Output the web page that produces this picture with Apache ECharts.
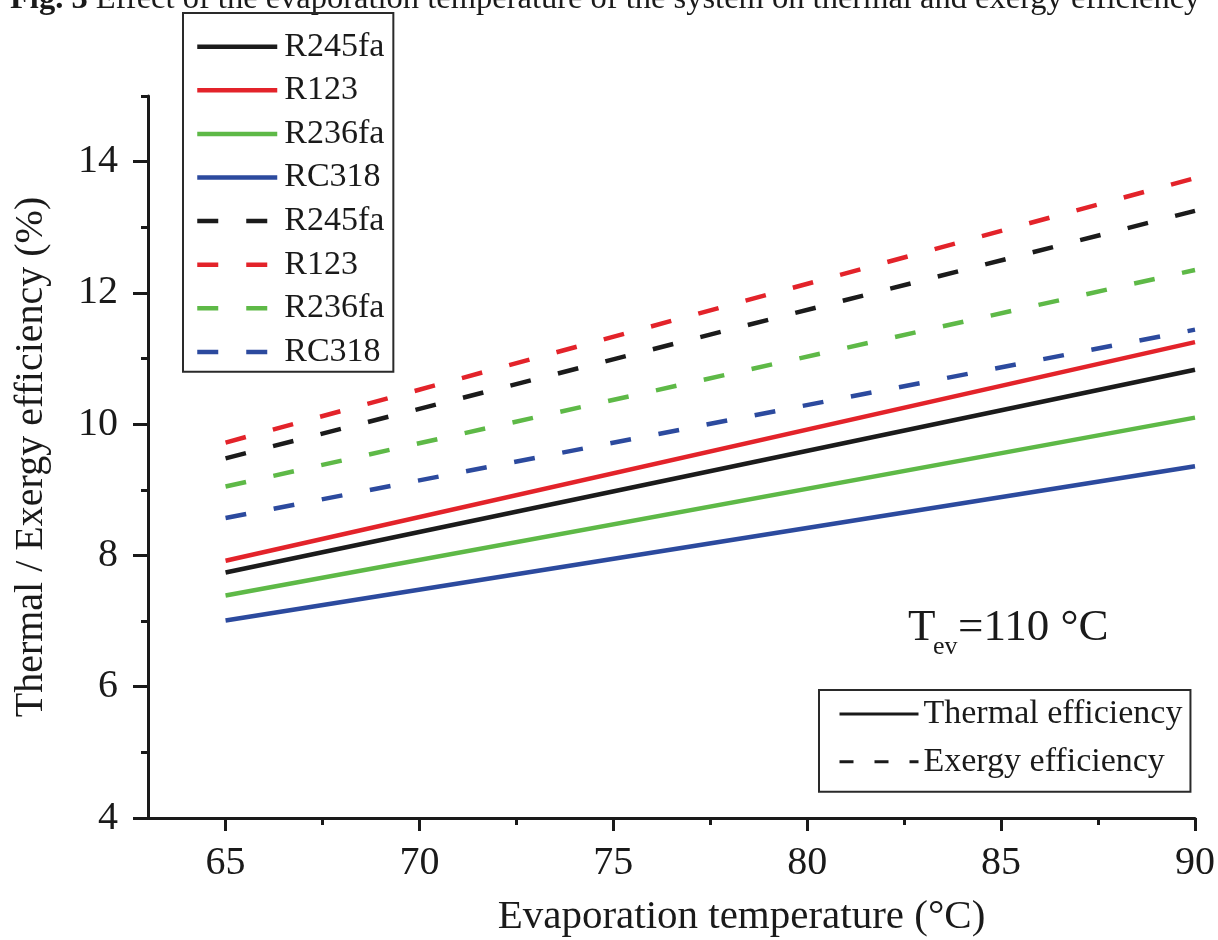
<!DOCTYPE html>
<html>
<head>
<meta charset="utf-8">
<script src="https://cdn.jsdelivr.net/npm/echarts@6/dist/echarts.min.js"></script>
<style>
  html, body { margin: 0; padding: 0; background: #ffffff; }
  #chart { width: 1218px; height: 940px; }
</style>
</head>
<body>
<div id="chart"></div>
<script>
// Evaporation temperature (°C) at the ends of each curve
const temps = [65, 90];

// Working fluids
const fluids = ['R245fa', 'R123', 'R236fa', 'RC318'];

// Thermal efficiency (%)
const thermalR245fa = [7.74, 10.83];
const thermalR123   = [7.92, 11.25];
const thermalR236fa = [7.39, 10.10];
const thermalRC318  = [7.01, 9.36];

// Exergy efficiency (%)
const exergyR245fa = [9.48, 13.25];
const exergyR123   = [9.72, 13.75];
const exergyR236fa = [9.05, 12.35];
const exergyRC318  = [8.57, 11.44];

// Axis ticks
const xMajorTicks = [65, 70, 75, 80, 85, 90];
const xMinorTicks = [67.5, 72.5, 77.5, 82.5, 87.5];
const yMajorTicks = [4, 6, 8, 10, 12, 14];
const yMinorTicks = [5, 7, 9, 11, 13, 15];

const thermalSets = [thermalR245fa, thermalR123, thermalR236fa, thermalRC318];
const exergySets = [exergyR245fa, exergyR123, exergyR236fa, exergyRC318];
const colors = ['#1b1b1b', '#e3232a', '#5eb947', '#2c4a9e'];

const FONT = '"Liberation Serif", "Times New Roman", serif';
const INK = '#1a1a1a';
const DASH = [21, 28];

function pairs(values) {
  return temps.map((t, j) => [t, values[j]]);
}

const series = [];
fluids.forEach((f, i) => {
  series.push({
    name: f + ' thermal', type: 'line', symbol: 'none', silent: true,
    xAxisIndex: 0, yAxisIndex: 0,
    data: pairs(thermalSets[i]),
    lineStyle: { color: colors[i], width: 4.5, type: 'solid' },
    itemStyle: { color: colors[i] }
  });
});
fluids.forEach((f, i) => {
  series.push({
    name: f + ' exergy', type: 'line', symbol: 'none', silent: true,
    xAxisIndex: 0, yAxisIndex: 0,
    data: pairs(exergySets[i]),
    lineStyle: { color: colors[i], width: 4.5, type: DASH },
    itemStyle: { color: colors[i] }
  });
});
// Style key entries (no data of their own)
series.push({
  name: 'Thermal efficiency', type: 'line', symbol: 'none', data: [],
  lineStyle: { color: INK, width: 3, type: 'solid' }, itemStyle: { color: INK }
});
series.push({
  name: 'Exergy efficiency', type: 'line', symbol: 'none', data: [],
  lineStyle: { color: INK, width: 3, type: [14, 21] }, itemStyle: { color: INK }
});

const axisCommon = {
  type: 'value',
  splitLine: { show: false },
  nameMoveOverlap: false
};

// legend keys show only the line, no marker dot
const hiddenMarker = { color: 'transparent', borderWidth: 0, opacity: 0 };

const option = {
  backgroundColor: '#ffffff',
  animation: false,
  textStyle: { fontFamily: FONT, color: INK },
  grid: { left: 148, right: 23, top: 96, bottom: 122, outerBoundsMode: 'none', containLabel: false },
  xAxis: [
    Object.assign({}, axisCommon, {
      min: 63, max: 90, position: 'bottom',
      name: 'Evaporation temperature (°C)',
      nameLocation: 'middle', nameGap: 79,
      nameTextStyle: { fontFamily: FONT, fontSize: 41, color: INK, padding: [0, 0, 0, 140] },
      axisLine: { show: true, onZero: false, lineStyle: { color: INK, width: 3 } },
      axisTick: { show: true, inside: false, length: 13, customValues: xMajorTicks, lineStyle: { color: INK, width: 3 } },
      axisLabel: { show: true, margin: 25, customValues: xMajorTicks, fontFamily: FONT, fontSize: 40, color: INK }
    }),
    Object.assign({}, axisCommon, {
      min: 63, max: 90, position: 'bottom',
      axisLine: { show: false },
      axisTick: { show: true, inside: false, length: 7, customValues: xMinorTicks, lineStyle: { color: INK, width: 3 } },
      axisLabel: { show: false }
    })
  ],
  yAxis: [
    Object.assign({}, axisCommon, {
      min: 4, max: 15, position: 'left',
      name: 'Thermal / Exergy efficiency (%)',
      nameLocation: 'middle', nameGap: 97,
      nameTextStyle: { fontFamily: FONT, fontSize: 40, color: INK },
      axisLine: { show: true, onZero: false, lineStyle: { color: INK, width: 3 } },
      axisTick: { show: true, inside: false, length: 15, customValues: yMajorTicks, lineStyle: { color: INK, width: 3 } },
      axisLabel: { show: true, margin: 30, customValues: yMajorTicks, fontFamily: FONT, fontSize: 40, color: INK }
    }),
    Object.assign({}, axisCommon, {
      min: 4, max: 15, position: 'left',
      axisLine: { show: false },
      axisTick: { show: true, inside: false, length: 7, customValues: yMinorTicks, lineStyle: { color: INK, width: 3 } },
      axisLabel: { show: false }
    })
  ],
  legend: [
    {
      orient: 'vertical', left: 183, top: 13,
      selectedMode: false,
      data: fluids.map(f => f + ' thermal').concat(fluids.map(f => f + ' exergy')),
      formatter: name => name.split(' ')[0],
      itemWidth: 80, itemHeight: 14, itemGap: 9.6,
      padding: [16.7, 9, 2.8, 12],
      borderColor: '#2a2a2a', borderWidth: 2,
      lineStyle: { width: 4.5 },
      itemStyle: hiddenMarker,
      textStyle: { fontFamily: FONT, fontSize: 34, lineHeight: 34, color: INK, padding: [0, 0, 0, 2] }
    },
    {
      orient: 'vertical', left: 819, top: 690,
      selectedMode: false,
      data: ['Thermal efficiency', 'Exergy efficiency'],
      itemWidth: 79, itemHeight: 14, itemGap: 12.7,
      padding: [6.5, 8, 12.5, 19],
      borderColor: '#2a2a2a', borderWidth: 2,
      lineStyle: { width: 3 },
      itemStyle: hiddenMarker,
      textStyle: { fontFamily: FONT, fontSize: 34, lineHeight: 35, color: INK }
    }
  ],
  graphic: [
    {
      type: 'text', left: 10, top: -17, silent: true,
      style: {
        text: '{b|Fig. 3} Effect of the evaporation temperature of the system on thermal and exergy efficiency',
        fontFamily: FONT, fontSize: 32.5, fill: INK,
        rich: { b: { fontFamily: FONT, fontSize: 32.5, fontWeight: 'bold', fill: INK } }
      }
    },
    {
      type: 'text', x: 908, y: 628, silent: true,
      style: { text: 'T', fontFamily: FONT, fontSize: 45, fill: INK, verticalAlign: 'middle' }
    },
    {
      type: 'text', x: 933, y: 647, silent: true,
      style: { text: 'ev', fontFamily: FONT, fontSize: 26, fill: INK, verticalAlign: 'middle' }
    },
    {
      type: 'text', x: 958, y: 628, silent: true,
      style: { text: '=110 °C', fontFamily: FONT, fontSize: 45, fill: INK, verticalAlign: 'middle' }
    }
  ],
  series: series
};

const chart = echarts.init(document.getElementById('chart'), null, { renderer: 'canvas' });
chart.setOption(option);
</script>
</body>
</html>
